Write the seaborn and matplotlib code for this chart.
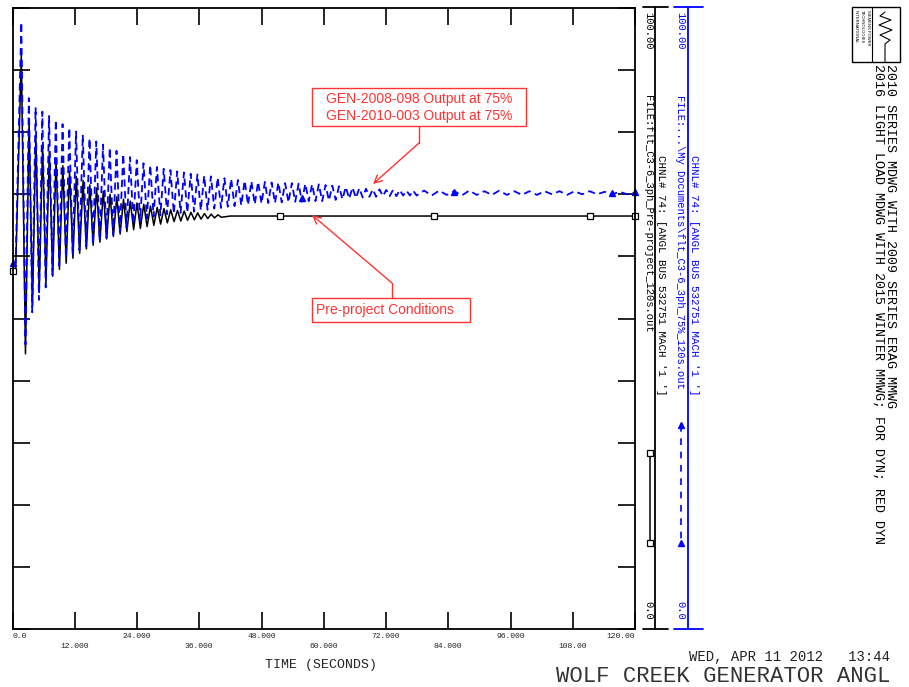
import numpy as np
import pandas as pd
import matplotlib
matplotlib.use('Agg')
import matplotlib.pyplot as plt
import seaborn as sns
from matplotlib.patches import Rectangle

# ---- data (angle, 0-100 scale, time in s) ----
lead_t = [0.0, 0.6, 1.7, 2.5]
black_lead = [57.6, 57.6, 92.4, 44.3]
blue_lead = [58.9, 58.9, 97.7, 45.8]

# black (pre-project) swing extremes, peaks from 3.2 s, troughs from 3.85 s, 1.3 s period
black_peaks = [82.0, 79.5, 78.0, 76.8, 75.6, 74.6, 73.7, 72.9, 72.2, 71.5, 71.0, 70.5,
               70.0, 69.6, 69.2, 68.9, 68.6, 68.4, 68.1, 67.9, 67.7, 67.5, 67.4, 67.3,
               67.1, 67.0, 66.9, 66.8, 66.7]
black_troughs = [52.0, 54.2, 55.6, 56.8, 57.9, 58.9, 59.7, 60.5, 61.2, 61.8, 62.3, 62.8,
                 63.2, 63.6, 64.0, 64.3, 64.5, 64.8, 65.0, 65.2, 65.4, 65.6, 65.7, 65.8,
                 65.9, 66.0, 66.1, 66.2, 66.3]
black_end_t = [42.0, 120.0]
black_end = [66.5, 66.5]

# blue (GEN at 75%) swing extremes, peaks from 3.15 s, troughs from 3.8 s
blue_peaks = [85.5, 84.0, 83.3, 82.6, 82.0, 81.3, 80.7, 80.1, 79.6, 79.0, 78.5, 78.0,
              77.5, 77.0, 76.5, 76.0, 75.5, 75.0, 74.7, 74.4, 74.1, 73.9, 73.7, 73.5,
              73.3, 73.2, 73.0, 72.9, 72.7, 72.6, 72.5, 72.3, 72.2, 72.1, 72.0, 72.0,
              71.9, 71.9, 71.8, 71.8, 71.7, 71.7, 71.6, 71.6, 71.5, 71.4, 71.3, 71.2,
              71.1, 71.0, 70.9, 70.8, 70.8, 70.7, 70.7, 70.7, 70.6, 70.6]
blue_troughs = [51.0, 53.0, 55.0, 57.0, 58.5, 59.7, 60.4, 61.0, 61.6, 62.0, 62.5, 63.0,
                63.5, 64.0, 64.6, 65.2, 65.7, 66.1, 66.4, 66.6, 66.8, 66.9, 67.0, 67.1,
                67.2, 67.4, 67.5, 67.7, 67.8, 68.0, 68.1, 68.2, 68.3, 68.4, 68.5, 68.6,
                68.6, 68.7, 68.7, 68.8, 68.8, 68.9, 68.9, 68.9, 69.0, 69.1, 69.2, 69.3,
                69.4, 69.5, 69.6, 69.6, 69.7, 69.7, 69.7, 69.8, 69.8, 69.8]
# slow ripple after ~79 s (1.45 s apart)
blue_tail = [70.6, 69.8, 70.6, 69.9, 70.5, 69.8, 70.6, 69.9, 70.5, 69.9, 70.6, 69.9,
             70.5, 69.9, 70.5, 69.9, 70.5, 70.0, 70.5, 69.9, 70.5, 70.0, 70.5, 70.0,
             70.4, 70.0, 70.4, 70.0]
blue_end = 70.3

black_mark_t = [0.0, 51.5, 81.3, 111.3, 120.0]
black_mark_v = [57.6, 66.5, 66.5, 66.5, 66.5]
blue_mark_t = [0.0, 55.8, 85.2, 115.6, 120.0]
blue_mark_v = [58.9, 69.4, 70.4, 70.2, 70.3]

x_ticks = [0, 12, 24, 36, 48, 60, 72, 84, 96, 108, 120]
x_labels = ['0.0', '12.000', '24.000', '36.000', '48.000', '60.000', '72.000',
            '84.000', '96.000', '108.00', '120.00']


def swing(t0, peaks, troughs, half):
    t = np.empty(len(peaks) + len(troughs))
    v = np.empty_like(t)
    t[0::2] = t0 + 2 * half * np.arange(len(peaks))
    t[1::2] = t0 + half + 2 * half * np.arange(len(troughs))
    v[0::2] = peaks
    v[1::2] = troughs
    return t, v


bt, bv = swing(3.2, black_peaks, black_troughs, 0.65)
black = pd.DataFrame({'t': np.concatenate([lead_t, bt, black_end_t]),
                      'v': np.concatenate([black_lead, bv, black_end])})

ut, uv = swing(3.15, blue_peaks, blue_troughs, 0.65)
tail_t = 79.35 + 1.45 * np.arange(len(blue_tail))
blue = pd.DataFrame({'t': np.concatenate([lead_t, ut, tail_t, [120.0]]),
                     'v': np.concatenate([blue_lead, uv, blue_tail, [blue_end]])})

sns.set_style('white')
plt.rcParams['font.family'] = ['Liberation Mono', 'DejaVu Sans Mono']
mono = ['Liberation Mono', 'DejaVu Sans Mono']
sans = ['Liberation Sans', 'DejaVu Sans']

W, H = 909, 687
fig = plt.figure(figsize=(W / 100, H / 100), dpi=100)
x0, x1, y0, y1 = 12.5, 635, 8, 629
ax = fig.add_axes([x0 / W, 1 - y1 / H, (x1 - x0) / W, (y1 - y0) / H])

sns.lineplot(data=black, x='t', y='v', color='black', lw=1.1, estimator=None,
             sort=False, ax=ax)
sns.lineplot(data=blue, x='t', y='v', color='#0000ff', lw=1.3, estimator=None,
             sort=False, ax=ax)
ax.lines[-1].set_linestyle((0, (4, 2.5)))
ax.plot(black_mark_t, black_mark_v, ls='none', marker='s', ms=4, mfc='white',
        mec='black', mew=0.9, clip_on=False)
ax.plot(blue_mark_t, blue_mark_v, ls='none', marker='^', ms=4, color='#0000ff',
        clip_on=False)

ax.set_xlim(0, 120)
ax.set_ylim(0, 100)
ax.set_xticks(x_ticks)
ax.set_xticklabels([lb if i % 2 == 0 else '\n' + lb for i, lb in enumerate(x_labels)],
                   linespacing=1.5)
ax.set_yticks(range(0, 101, 10))
ax.tick_params(direction='in', length=12, width=1.2, top=True, right=True,
               left=True, bottom=True, labelleft=False, labelsize=5.8, pad=3,
               colors='black')
ax.tick_params(axis='x', labelcolor='#222222')
labs = ax.get_xticklabels()
labs[0].set_ha('left')
labs[-1].set_ha('right')
ax.set_xlabel('')
ax.set_ylabel('')
for s in ax.spines.values():
    s.set_color('black')
    s.set_linewidth(1.3)
    s.set_visible(True)

# overlay in pixel coordinates for the legend strip and captions
ov = fig.add_axes([0, 0, 1, 1], zorder=5)
ov.set_xlim(0, W)
ov.set_ylim(H, 0)
ov.axis('off')
ov.patch.set_alpha(0)

ov.text(321, 665, 'TIME (SECONDS)', ha='center', va='center', fontsize=9.5,
        family=mono, color='#222222')
ov.text(890, 657, 'WED, APR 11 2012   13:44', ha='right', va='center', fontsize=10,
        family=mono, color='#222222')
ov.text(890, 677, 'WOLF CREEK GENERATOR ANGL', ha='right', va='center', fontsize=16,
        family=mono, color='#333333')

# legend strip: black channel
ov.plot([655, 655], [7, 629], color='black', lw=1.3)
ov.plot([643, 668], [7, 7], color='black', lw=1.3)
ov.plot([643, 668], [629, 629], color='black', lw=1.3)
ov.text(648, 12, '100.00', rotation=-90, ha='center', va='top', fontsize=7.6,
        family=mono, color='black')
ov.text(648, 620, '0.0', rotation=-90, ha='center', va='bottom', fontsize=7.6,
        family=mono, color='black')
ov.text(648, 95, 'FILE:flt_C3-6_3ph_Pre-project_120s.out', rotation=-90, ha='center',
        va='top', fontsize=7.6, family=mono, color='black')
ov.text(661, 155, "CHNL# 74: [ANGL BUS 532751 MACH '1 ']", rotation=-90, ha='center',
        va='top', fontsize=7.8, family=mono, color='black')
ov.plot([650, 650], [453, 543], color='black', lw=1.1, marker='s', ms=4,
        mfc='white', mec='black', mew=0.9)

# legend strip: blue channel
ov.plot([688, 688], [7, 629], color='#0000ff', lw=1.3)
ov.plot([674, 703], [7, 7], color='#0000ff', lw=1.3)
ov.plot([674, 703], [629, 629], color='#0000ff', lw=1.3)
ov.text(680, 12, '100.00', rotation=-90, ha='center', va='top', fontsize=7.6,
        family=mono, color='#0000ff')
ov.text(680, 620, '0.0', rotation=-90, ha='center', va='bottom', fontsize=7.6,
        family=mono, color='#0000ff')
ov.text(680, 95, 'FILE:...\\My Documents\\flt_C3-6_3ph_75%_120s.out', rotation=-90,
        ha='center', va='top', fontsize=7.6, family=mono, color='#0000ff')
ov.text(694, 155, "CHNL# 74: [ANGL BUS 532751 MACH '1 ']", rotation=-90, ha='center',
        va='top', fontsize=7.8, family=mono, color='#0000ff')
ov.plot([681, 681], [425, 543], color='#0000ff', lw=1.2, ls=(0, (4, 4)),
        marker='^', ms=4)

# title block
ov.add_patch(Rectangle((852, 7), 48, 55, fill=False, ec='black', lw=1))
ov.plot([872, 872], [7, 62], color='black', lw=0.8)
for i, s in enumerate(['SIEMENS POWER', 'TECHNOLOGIES', 'INTERNATIONAL']):
    ov.text(868 - i * 6, 10, s, rotation=-90, ha='center', va='top', fontsize=3,
            family=sans, color='black')
ov.plot([885, 880, 891, 879, 892, 880, 890, 885, 885],
        [12, 16, 20, 25, 30, 35, 40, 44, 62], color='black', lw=0.8)
ov.text(890, 64, '2010 SERIES MDWG WITH 2009 SERIES ERAG MMWG', rotation=-90,
        ha='center', va='top', fontsize=9.6, family=mono, color='black')
ov.text(878, 64, '2016 LIGHT LOAD MDWG WITH 2015 WINTER MMWG; FOR DYN; RED DYN',
        rotation=-90, ha='center', va='top', fontsize=9.6, family=mono, color='black')

# red callouts
red = '#ff3333'
ov.add_patch(Rectangle((312, 88), 214, 38, fill=True, fc='white', ec=red, lw=1))
ov.text(419, 99, 'GEN-2008-098 Output at 75%', ha='center', va='center',
        fontsize=10, family=sans, color=red)
ov.text(419, 116, 'GEN-2010-003 Output at 75%', ha='center', va='center',
        fontsize=10, family=sans, color=red)
ov.plot([419, 419], [126, 143], color=red, lw=1)
ov.annotate('', xy=(373, 184), xytext=(419, 143),
            arrowprops=dict(arrowstyle='->', color=red, lw=1, mutation_scale=14,
                            shrinkA=0, shrinkB=0))

ov.add_patch(Rectangle((312, 298), 158, 24, fill=True, fc='white', ec=red, lw=1))
ov.text(316, 310, 'Pre-project Conditions', ha='left', va='center', fontsize=10,
        family=sans, color=red)
ov.plot([392, 392], [298, 283], color=red, lw=1)
ov.annotate('', xy=(312, 215), xytext=(392, 283),
            arrowprops=dict(arrowstyle='->', color=red, lw=1, mutation_scale=14,
                            shrinkA=0, shrinkB=0))

fig.savefig('out.png', dpi=100)
